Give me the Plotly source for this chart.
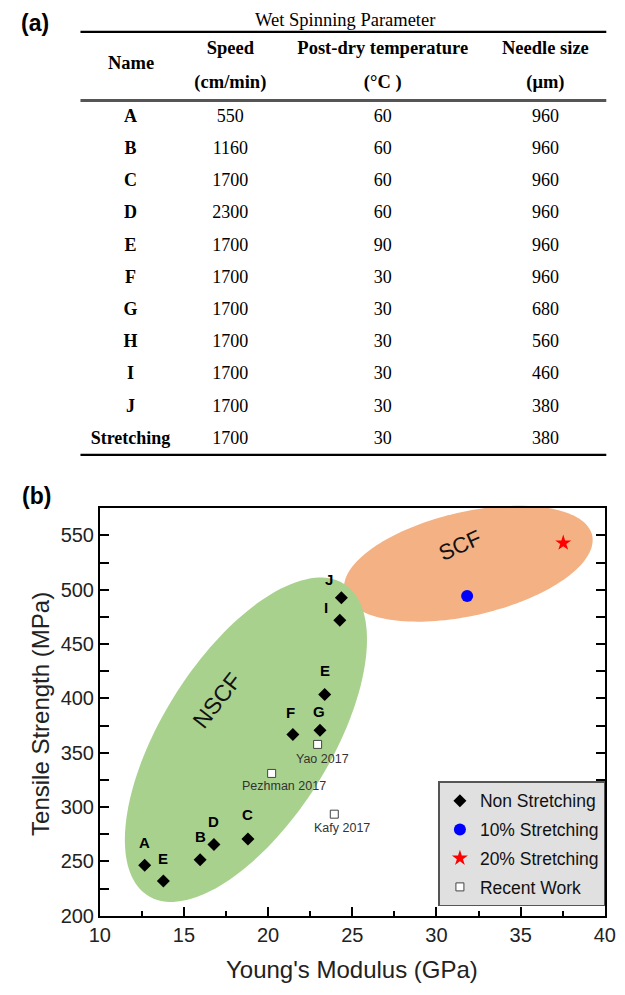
import numpy as np
import plotly.graph_objects as go

W, H = 625, 995
SANS = "Liberation Sans, Arial, sans-serif"
SERIF = "Liberation Serif, Times New Roman, serif"

# ---------------- (a) table data ----------------
table_title = "Wet Spinning Parameter"
name_header = "Name"
header_line1 = ["Speed", "Post-dry temperature", "Needle size"]
header_line2 = ["(cm/min)", "(°C )", "(μm)"]
names = ["A", "B", "C", "D", "E", "F", "G", "H", "I", "J", "Stretching"]
speed = [550, 1160, 1700, 2300, 1700, 1700, 1700, 1700, 1700, 1700, 1700]
post_dry_temp = [60, 60, 60, 60, 90, 30, 30, 30, 30, 30, 30]
needle_size = [960, 960, 960, 960, 960, 960, 680, 560, 460, 380, 380]

# ---------------- (b) scatter data ----------------
ns_labels = ["A", "E", "B", "D", "C", "F", "G", "E", "I", "J"]
ns_modulus = [12.67, 13.78, 15.96, 16.78, 18.80, 21.47, 23.08, 23.36, 24.26, 24.35]
ns_strength = [246.4, 231.9, 251.6, 265.5, 270.7, 366.8, 370.8, 403.6, 471.9, 492.8]
s10_modulus = [31.82]
s10_strength = [494.3]
s20_modulus = [37.53]
s20_strength = [543.1]
recent_names = ["Yao 2017", "Pezhman 2017", "Kafy 2017"]
recent_modulus = [22.94, 20.21, 23.93]
recent_strength = [357.7, 331.0, 293.5]
x_ticks = [10, 15, 20, 25, 30, 35, 40]
y_ticks = [200, 250, 300, 350, 400, 450, 500, 550]

# label offsets in pixels (style)
ns_label_shift = [(0, 23), (0, 23), (0, 23), (0, 23), (0, 24), (-2, 22), (-1, 19), (0, 24), (-14, 13), (-12, 18)]
recent_label_shift = [(5, -15), (12, -13), (8, -14)]


def nb(s):
    return s.replace(" ", "\u00a0")


def px2paper(x, y):
    return x / W, 1 - y / H


fig = go.Figure()

# ---------- table ----------
hdr_vals = [["", ""]] + [[nb(a), nb(b)] for a, b in zip(header_line1, header_line2)]
fig.add_trace(go.Table(
    domain=dict(x=[72 / W, 617 / W], y=[1 - 462 / H, 1 - 32.7 / H]),
    columnwidth=[104, 103.4, 213.2, 124.8],
    header=dict(values=hdr_vals, height=34, align="center",
                font=dict(family=SERIF, size=18.5, color="black", weight="bold"),
                fill_color="white", line_color="white"),
    cells=dict(values=[names, speed, post_dry_temp, needle_size], height=32.2, align="center",
               font=dict(family=SERIF, size=18, color="black",
                         weight=["bold", "normal", "normal", "normal"]),
               fill_color="white", line_color="white"),
))

# ---------- scatter traces ----------
fig.add_trace(go.Scatter(x=ns_modulus, y=ns_strength, mode="markers", name="Non Stretching",
                         legendgroup="g1",
                         marker=dict(symbol="diamond", size=10, color="black")))
fig.add_trace(go.Scatter(x=s10_modulus, y=s10_strength, mode="markers", name="10% Stretching",
                         legendgroup="g2",
                         marker=dict(symbol="circle", size=12, color="#0000ff")))
fig.add_trace(go.Scatter(x=s20_modulus, y=s20_strength, mode="markers", name="20% Stretching",
                         legendgroup="g3",
                         marker=dict(symbol="star", size=12, color="#ff0000")))
fig.add_trace(go.Scatter(x=recent_modulus, y=recent_strength, mode="markers", name="Recent Work",
                         legendgroup="g4",
                         marker=dict(symbol="square", size=8, color="white",
                                     line=dict(color="#444", width=1))))

annotations = []
for lab, xv, yv, (dx, dy) in zip(ns_labels, ns_modulus, ns_strength, ns_label_shift):
    annotations.append(dict(x=xv, y=yv, xref="x", yref="y", text=lab, showarrow=False,
                            xshift=dx, yshift=dy,
                            font=dict(family=SANS, size=15, color="black", weight="bold")))
for lab, xv, yv, (dx, dy) in zip(recent_names, recent_modulus, recent_strength, recent_label_shift):
    annotations.append(dict(x=xv, y=yv, xref="x", yref="y", text=lab, showarrow=False,
                            xshift=dx, yshift=dy,
                            font=dict(family=SANS, size=12.5, color="#333")))


def ann_px(text, x, y, size, weight="normal", angle=0, family=SANS, color="black", xanchor="center"):
    px, py = px2paper(x, y)
    annotations.append(dict(x=px, y=py, xref="paper", yref="paper", text=text, showarrow=False,
                            textangle=angle, xanchor=xanchor, yanchor="middle",
                            font=dict(family=family, size=size, color=color, weight=weight)))


ann_px("(a)", 25, 23, 23, "bold")
ann_px("(b)", 26, 501.7, 23, "bold")
ann_px(table_title, 346, 20.7, 18.5, family=SERIF)
ann_px(name_header, 124, 63.3, 18.5, "bold", family=SERIF)
ann_px("NSCF", 214, 708.3, 23, angle=-52, color="#111")
ann_px("SCF", 465, 551.7, 22, angle=-24, color="#111")
ann_px("Young's Modulus (GPa)", 353.75, 980, 24, color="#222")
ann_px("Tensile Strength (MPa)", 30, 722, 24, angle=-90, color="#222")


def ellipse_path(cx, cy, a, b, deg, n=160):
    t = np.linspace(0, 2 * np.pi, n, endpoint=False)
    th = np.radians(deg)
    ex = cx + a * np.cos(t) * np.cos(th) - b * np.sin(t) * np.sin(th)
    ey = cy - a * np.cos(t) * np.sin(th) - b * np.sin(t) * np.cos(th)
    pts = [px2paper(x, y) for x, y in zip(ex, ey)]
    return "M " + " L ".join(f"{x:.5f},{y:.5f}" for x, y in pts) + " Z"


shapes = [
    dict(type="path", xref="paper", yref="paper", layer="below", line=dict(width=0),
         fillcolor="#f4b183", path=ellipse_path(474, 570, 131.5, 52.5, 12.5)),
    dict(type="path", xref="paper", yref="paper", layer="below", line=dict(width=0),
         fillcolor="#a9d18e", path=ellipse_path(243.5, 748, 187.6, 86.3, 56.85)),
]
# table rules
for yy, wd, col in [(32.3, 2.2, "black"), (101.5, 3, "#555"), (460, 2.2, "black")]:
    x0, y0 = px2paper(72, yy)
    x1, _ = px2paper(617, yy)
    shapes.append(dict(type="line", xref="paper", yref="paper", x0=x0, x1=x1, y0=y0, y1=y0,
                       line=dict(color=col, width=wd), layer="above"))

axis_common = dict(showgrid=False, zeroline=False, ticks="inside", ticklen=9, tickwidth=1.5,
                   tickcolor="black", linecolor="black", linewidth=1.5,
                   ticklabeloverflow="allow",
                   tickfont=dict(family=SANS, size=20, color="#222"))

fig.update_layout(
    width=W, height=H, margin=dict(l=0, r=0, t=0, b=0),
    paper_bgcolor="white", plot_bgcolor="white",
    xaxis=dict(domain=[92 / W, 615.5 / W], range=[10, 40], tickvals=x_ticks, mirror=True,
               minor=dict(ticks="inside", ticklen=5, tickwidth=1.5, tickcolor="black",
                          tick0=10, dtick=2.5),
               **axis_common),
    yaxis=dict(domain=[1 - 926 / H, 1 - 514 / H], range=[200, 575], tickvals=y_ticks,
               mirror="allticks",
               minor=dict(ticks="inside", ticklen=9, tickwidth=1.5, tickcolor="black",
                          tick0=200, dtick=25),
               **axis_common),
    legend=dict(x=443 / W, y=1 - 790 / H, xanchor="left", yanchor="top",
                bgcolor="#e0e0e0", bordercolor="#555", borderwidth=1.5,
                font=dict(family=SANS, size=17.5, color="#111"),
                tracegroupgap=3, itemsizing="trace"),
    annotations=annotations,
    shapes=shapes,
)

fig.write_html("out.html")
